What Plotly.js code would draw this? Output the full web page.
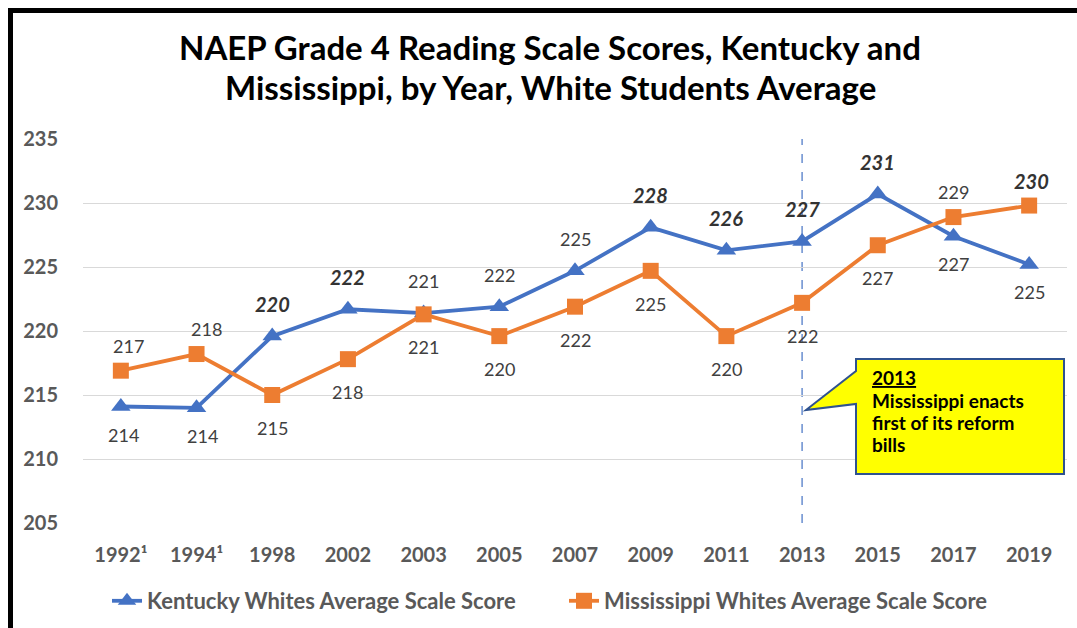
<!DOCTYPE html>
<html>
<head>
<meta charset="utf-8">
<script src="https://cdn.plot.ly/plotly-3.0.1.min.js"></script>
<style>
  html, body { margin: 0; padding: 0; background: #ffffff; }
  #chart { width: 1077px; height: 628px; }
</style>
</head>
<body>
<div id="chart"></div>
<script>
// ---- data ----
const years = ['1992¹', '1994¹', '1998', '2002', '2003', '2005', '2007', '2009', '2011', '2013', '2015', '2017', '2019'];
const kentucky = [214.1, 214.0, 219.6, 221.7, 221.4, 221.9, 224.7, 228.1, 226.3, 227.0, 230.7, 227.4, 225.2];
const mississippi = [216.9, 218.2, 215.0, 217.8, 221.3, 219.6, 221.9, 224.7, 219.6, 222.2, 226.7, 228.9, 229.8];
const kyName = 'Kentucky Whites Average Scale Score';
const msName = 'Mississippi Whites Average Scale Score';
const yTicks = [205, 210, 215, 220, 225, 230, 235];
const titleLines = ['NAEP Grade 4 Reading Scale Scores, Kentucky and', 'Mississippi, by Year, White Students Average'];
const reformYear = '2013';
const calloutTitle = '2013';
const calloutLines = ['Mississippi enacts', 'first of its reform', 'bills'];

// ---- label placement / style (not data) ----
const kyLabelPos  = ['below','below','above','above','above','above','above','above','above','above','above','below','below'];
const kyLabelBold = [0,0,1,1,0,0,0,1,1,1,1,0,0];
const msLabelPos  = ['above','above','below','below','below','below','below','below','below','below','below','above','above'];
const msLabelBold = [0,0,0,0,0,0,0,0,0,0,0,0,1];
const msLabelDx   = [8,10,0,0,0,0,0,0,0,0,0,0,2];
const kyLabelDx   = [3,6,0,0,0,0,0,0,0,0,0,0,0];

const BLUE = '#4472C4', ORANGE = '#ED7D31';
const FONT = 'Lato, "Open Sans", sans-serif';

// plot area in pixels
const L = 83, R = 1067, T = 139, B = 523, W = 1077, H = 628;
const px = x => (x - L) / (R - L);
const py = y => (B - y) / (B - T);

const traces = [
  { x: years, y: kentucky, name: kyName, type: 'scatter', mode: 'lines+markers',
    line: { color: BLUE, width: 3.8 },
    marker: { symbol: 'triangle-up', size: 17, color: BLUE } },
  { x: years, y: mississippi, name: msName, type: 'scatter', mode: 'lines+markers',
    line: { color: ORANGE, width: 3.8 },
    marker: { symbol: 'square', size: 16, color: ORANGE } }
];

const annotations = [];
function addLabels(vals, pos, bold, dx, up, down) {
  vals.forEach((v, i) => {
    const b = bold[i] === 1;
    annotations.push({
      x: i, y: v, xref: 'x', yref: 'y', showarrow: false,
      text: b ? '<b><i>' + Math.round(v) + '</i></b>' : String(Math.round(v)),
      font: { family: FONT, size: b ? 20 : 18, color: b ? '#333333' : '#404040' },
      yshift: pos[i] === 'above' ? up : -down,
      xshift: dx[i]
    });
  });
}
addLabels(kentucky, kyLabelPos, kyLabelBold, kyLabelDx, 32, 28);
addLabels(mississippi, msLabelPos, msLabelBold, msLabelDx, 25, 33);

// title lines
const titleY = [47, 87];
titleLines.forEach((t, i) => annotations.push({
  xref: 'paper', yref: 'paper', x: px(550), y: py(titleY[i]), xanchor: 'center', yanchor: 'middle',
  showarrow: false, text: '<b>' + t + '</b>',
  font: { family: FONT, size: 33, color: '#000000' }
}));

// callout text
const calloutY = [377, 400, 422, 444];
[calloutTitle].concat(calloutLines).forEach((t, i) => annotations.push({
  xref: 'paper', yref: 'paper', x: px(870), y: py(calloutY[i]), xanchor: 'left', yanchor: 'middle',
  align: 'left', showarrow: false,
  text: i === 0 ? '<b><u>' + t + '</u></b>' : '<b>' + t + '</b>',
  font: { family: FONT, size: 19, color: '#000000' }
}));

const shapes = [
  // dashed reform line
  { type: 'line', xref: 'x', yref: 'paper', x0: years.indexOf(reformYear), x1: years.indexOf(reformYear), y0: 0, y1: 1,
    line: { color: BLUE, width: 1.2, dash: 'dash' }, layer: 'below' },
  // callout box with pointer
  { type: 'path', xref: 'paper', yref: 'paper',
    path: 'M' + px(856) + ',' + py(359) + ' L' + px(1064) + ',' + py(359) +
          ' L' + px(1064) + ',' + py(474) + ' L' + px(856) + ',' + py(474) +
          ' L' + px(856) + ',' + py(404) + ' L' + px(806) + ',' + py(410) +
          ' L' + px(856) + ',' + py(371) + ' Z',
    fillcolor: '#FFFF00', line: { color: '#2F528F', width: 2 } },
  // frame (left + top black border)
  { type: 'line', xref: 'paper', yref: 'paper', x0: px(10.5), x1: px(10.5), y0: py(8), y1: py(H + 5),
    line: { color: '#000000', width: 5 } },
  { type: 'line', xref: 'paper', yref: 'paper', x0: px(8), x1: px(W + 5), y0: py(10.5), y1: py(10.5),
    line: { color: '#000000', width: 5 } }
];

const layout = {
  width: W, height: H,
  paper_bgcolor: '#ffffff', plot_bgcolor: '#ffffff',
  margin: { l: L, r: W - R, t: T, b: H - B, pad: 0, autoexpand: false },
  xaxis: {
    type: 'category', range: [-0.5, years.length - 0.5],
    showgrid: false, zeroline: false, showline: false,
    ticks: '', ticklabelstandoff: 18,
    tickfont: { family: FONT, size: 20, color: '#595959', weight: 'bold' },
    fixedrange: true
  },
  yaxis: {
    range: [205, 235], tickvals: yTicks, showgrid: true, gridcolor: '#D9D9D9', gridwidth: 1,
    zeroline: false, showline: false, ticks: '', ticklabelstandoff: 24,
    tickfont: { family: FONT, size: 20, color: '#595959', weight: 'bold' },
    fixedrange: true
  },
  showlegend: true,
  legend: {
    orientation: 'h', x: px(107), xanchor: 'left', y: py(601), yanchor: 'middle',
    font: { family: FONT, size: 22, color: '#595959', weight: 'bold' },
    itemwidth: 30, tracegroupgap: 0, bgcolor: 'rgba(0,0,0,0)',
    entrywidth: 412, entrywidthmode: 'pixels'
  },
  shapes: shapes,
  annotations: annotations
};

Plotly.newPlot('chart', traces, layout, { displayModeBar: false, staticPlot: true });
</script>
</body>
</html>
